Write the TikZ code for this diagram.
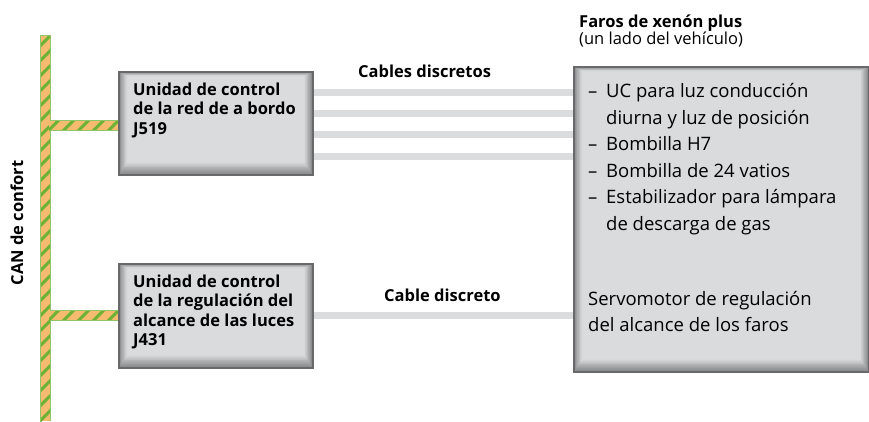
\documentclass[tikz,border=0pt]{standalone}
\usepackage{fontspec}
\setmainfont{Open Sans}
\definecolor{busorange}{RGB}{247,187,112}
\definecolor{busgreen}{RGB}{109,178,52}
\definecolor{cablegray}{RGB}{219,220,222}
\definecolor{boxfill}{RGB}{218,219,221}
\definecolor{boxshade}{RGB}{135,136,138}
\definecolor{boxedge}{RGB}{105,105,107}
\usetikzlibrary{positioning}

\begin{document}
\begin{tikzpicture}[x=1pt,y=-1pt,
    unitbox/.style={draw=boxedge,line width=1.5pt,fill=boxfill,inner sep=0pt,anchor=north west,
      path picture={
        \foreach \i in {0,...,13}{
          \pgfmathtruncatemacro\shadeval{\i*7.5}
          \pgfmathsetmacro\bvl{0.6*\i+0.7}
          \pgfmathsetmacro\bvt{0.3*\i+0.7}
          \pgfmathsetmacro\bvb{0.9*\i+0.7}
          \draw[line width=1.2pt,draw=boxfill!\shadeval!boxshade]
            ([xshift=\bvl pt,yshift=-\bvt pt]path picture bounding box.north west)
            rectangle ([xshift=-\bvl pt,yshift=\bvb pt]path picture bounding box.south east);
        }}},
    unittext/.style={font=\fontsize{16.5}{19.5}\selectfont\bfseries,inner sep=0pt,anchor=base west},
    farotext/.style={font=\fontsize{18.5}{26.6}\selectfont,inner sep=0pt,anchor=base west},
    cablelabel/.style={font=\fontsize{16.5}{19.5}\selectfont\bfseries,inner sep=0pt},
    cable/.style={draw=cablegray,line width=7pt},
    canwire/.style={fill=busorange,
      path picture={
        \foreach \k in {-30,...,30}
          \draw[busgreen,line width=3pt] ([xshift=\k*15pt]path picture bounding box.south west)
            ++(-450pt,-450pt) -- ++(900pt,900pt);
      }},
    canedge/.style={draw=busgreen!75!white,line width=0.8pt}]
  \useasboundingbox (0,0) rectangle (869,421);

  % CAN bus
  \path[canwire] (40,35) rectangle (50,421);
  \draw[canedge] (40,421) -- (40,35) -- (50,35) -- (50,421);
  \coordinate (can519) at (49,125);
  \coordinate (can431) at (49,315);
  \node[cablelabel,rotate=90,anchor=base] (lblcan) at (23,223) {CAN de confort};

  % control units
  \node[unitbox,minimum width=194pt,minimum height=103pt] (ucj519) at (118,71) {};
  \node[unitbox,minimum width=194pt,minimum height=104pt] (ucj431) at (118,263) {};
  \node[unittext] (txtj519) at ([xshift=15pt,yshift=-24pt]ucj519.north west)
    {\parbox[t]{180pt}{Unidad de control\\de la red de a bordo\\J519}};
  \node[unittext] (txtj431) at ([xshift=15pt,yshift=-24pt]ucj431.north west)
    {\parbox[t]{180pt}{Unidad de control\\de la regulación del\\alcance de las luces\\J431}};

  % branches to the bus
  \foreach \br/\uc in {can519/ucj519,can431/ucj431}{
    \path[canwire] ([yshift=5pt]\br) rectangle ([yshift=-5pt]\uc.west |- \br);
    \draw[canedge] ([yshift=5pt,xshift=1pt]\br) -- ([yshift=5pt]\uc.west |- \br);
    \draw[canedge] ([yshift=-5pt,xshift=1pt]\br) -- ([yshift=-5pt]\uc.west |- \br);
  }

  % headlight
  \node[unitbox,minimum width=295pt,minimum height=305pt] (faro) at (573,66) {};
  \node[inner sep=0pt,anchor=base west] (farohead) at ([xshift=6pt,yshift=39pt]faro.north west)
    {\parbox[t]{260pt}{\fontsize{16.5}{17}\selectfont\bfseries Faros de xenón plus\\
      \mdseries(un lado del vehículo)}};
  \node[farotext] (farolist) at ([xshift=15pt,yshift=-31.5pt]faro.north west)
    {\parbox[t]{270pt}{%
      \makebox[18pt][l]{–}UC para luz conducción\\
      \hspace*{18pt}diurna y luz de posición\\
      \makebox[18pt][l]{–}Bombilla H7\\
      \makebox[18pt][l]{–}Bombilla de 24 vatios\\
      \makebox[18pt][l]{–}Estabilizador para lámpara\\
      \hspace*{18pt}de descarga de gas}};
  \node[farotext] (faroservo) at ([xshift=15pt,yshift=-239pt]faro.north west)
    {\parbox[t]{270pt}{Servomotor de regulación\\del alcance de los faros}};

  % discrete cables
  \foreach \cy in {92,113.3,134.6,156}
    \draw[cable] (ucj519.east |- 0,\cy) -- (faro.west |- 0,\cy);
  \draw[cable] (ucj431.east) -- (faro.west |- ucj431.east);
  \node[cablelabel,anchor=base west] (lblcables) at (358,77) {Cables discretos};
  \node[cablelabel,anchor=base west] (lblcable) at (384,301) {Cable discreto};
\end{tikzpicture}
\end{document}
